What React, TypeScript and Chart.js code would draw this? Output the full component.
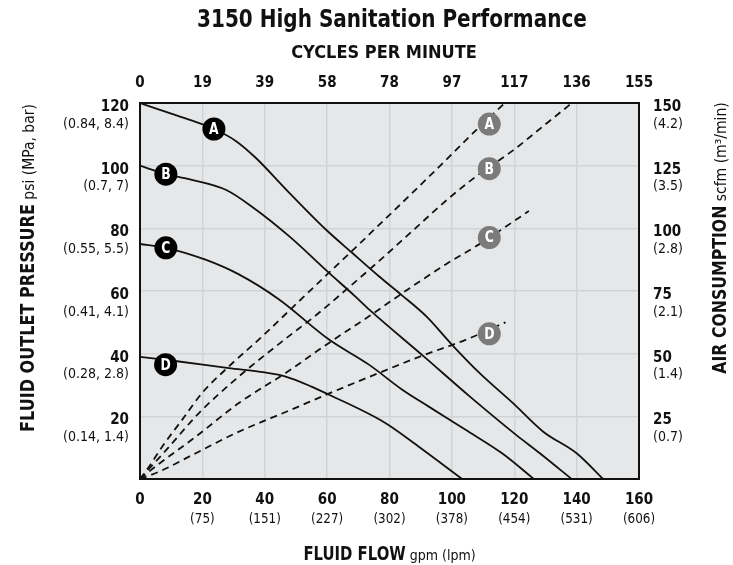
import React, { useEffect, useRef } from 'react';
import { Chart, registerables } from 'chart.js';

Chart.register(...registerables);

const FAMILY = "'DejaVu Sans Condensed', 'Liberation Sans Narrow', sans-serif";

// ---------- DATA ----------
// Fluid flow (gpm) vs fluid outlet pressure (psi) — solid curves
const flowA = [0, 10, 23.7, 30.7, 37, 47.8, 59.5, 68, 76.6, 83.9, 91.9, 99.9, 109, 119.6, 129.3, 140, 148.5];
const psiA = [120, 116.6, 111.7, 107.9, 102.6, 91.4, 79.7, 72.2, 64.7, 58.7, 51.8, 43, 33.7, 24.2, 15.1, 8.2, 0];
const flowB = [0, 8.3, 15.7, 27.5, 37, 47.8, 60.6, 69, 73.7, 90.8, 105.8, 120.7, 128.2, 138.4];
const psiB = [100, 97.3, 95.7, 92.3, 86.1, 77.5, 65.8, 58.3, 53.9, 39.3, 26.3, 14, 8.2, 0];
const flowC = [0, 8.3, 21, 31.7, 44.6, 60.6, 73.4, 84.1, 92.6, 104.4, 116.1, 126.3];
const psiC = [75, 73.8, 70, 65.3, 57.3, 44.5, 36.5, 28.5, 23.1, 15.7, 8.2, 0];
const flowD = [0, 12.5, 28.5, 40, 46.7, 55, 60.6, 70, 78.8, 89.4, 103.3];
const psiD = [39, 37.5, 35.4, 34, 32.7, 29.5, 26.9, 22.5, 17.8, 10.3, 0];

// Fluid flow (gpm) vs air consumption (scfm) — dashed curves
const airFlowA = [0, 2.9, 7.1, 13.5, 19.9, 28.5, 39.2, 48.8, 60.6, 68, 77.6, 87.2, 97.9, 108.7, 117];
const scfmA = [0, 4.9, 12.9, 23.6, 34.3, 44.9, 56.9, 68.3, 82.3, 91, 102.5, 114, 127, 140.3, 150];
const airFlowB = [0, 3, 8, 18.9, 31.7, 45.6, 57.4, 67, 76.6, 87.3, 98, 108.7, 119.4, 130.1, 138.1];
const scfmB = [0, 4.2, 11, 26.3, 40.9, 54.9, 66.3, 76.5, 86.9, 98.9, 110.9, 121.6, 130.9, 141.6, 149.6];
const airFlowC = [0, 5, 17.9, 31.7, 46.7, 60.6, 73.4, 87.5, 98, 108.7, 124.7];
const scfmC = [0, 5, 16.9, 30.3, 42.3, 54.3, 64.9, 77, 85.6, 93.6, 106.9];
const airFlowD = [0, 6.1, 17.9, 30.7, 47.8, 62.7, 76.6, 90.5, 104.4, 117.2];
const scfmD = [0, 2.9, 10.3, 18.3, 27.3, 35.2, 42.3, 49.2, 55.5, 62.5];

// Curve labels and their marker positions
const markerLetters = ['A', 'B', 'C', 'D'];
const pressureMarkerFlow = [23.7, 8.3, 8.3, 8.2];
const pressureMarkerPsi = [111.7, 97.3, 73.8, 36.5];
const airMarkerFlow = [112, 112, 112, 112];
const airMarkerScfm = [141.6, 123.8, 96.3, 57.9];

// Axis tick labels
const flowTicks = [0, 20, 40, 60, 80, 100, 120, 140, 160];
const flowTickLabels = ['0', '20', '40', '60', '80', '100', '120', '140', '160'];
const flowTickSub = ['', '(75)', '(151)', '(227)', '(302)', '(378)', '(454)', '(531)', '(606)'];
const cycleTickLabels = ['0', '19', '39', '58', '78', '97', '117', '136', '155'];
const psiTicks = [20, 40, 60, 80, 100, 120];
const psiTickSub = ['(0.14, 1.4)', '(0.28, 2.8)', '(0.41, 4.1)', '(0.55, 5.5)', '(0.7, 7)', '(0.84, 8.4)'];
const scfmTicks = [25, 50, 75, 100, 125, 150];
const scfmTickSub = ['(0.7)', '(1.4)', '(2.1)', '(2.8)', '(3.5)', '(4.2)'];

const TITLE = '3150 High Sanitation Performance';
const TOP_TITLE = 'CYCLES PER MINUTE';
const X_TITLE = ['FLUID FLOW', ' gpm (lpm)'];
const Y_TITLE = ['FLUID OUTLET PRESSURE', ' psi (MPa, bar)'];
const Y2_TITLE = ['AIR CONSUMPTION', ' scfm (m\u00B3/min)'];

// ---------- helpers ----------
const pts = (xs: number[], ys: number[]) => xs.map((x, i) => ({ x, y: ys[i] }));
const bold = (s: number) => `bold ${s}px ${FAMILY}`;
const reg = (s: number) => `${s}px ${FAMILY}`;

function drawText(ctx: CanvasRenderingContext2D, text: string, x: number, y: number, font: string, align: CanvasTextAlign, sx = 1, color = '#111') {
  ctx.save();
  ctx.font = font;
  ctx.fillStyle = color;
  ctx.textAlign = align;
  ctx.textBaseline = 'middle';
  ctx.translate(x, y);
  ctx.scale(sx, 1);
  ctx.fillText(text, 0, 0);
  ctx.restore();
}

function drawRich(ctx: CanvasRenderingContext2D, parts: [string, string, number][], cx: number, cy: number, capH: number, rotate: boolean) {
  ctx.save();
  ctx.translate(cx, cy);
  if (rotate) ctx.rotate(-Math.PI / 2);
  let total = 0;
  const widths = parts.map(([t, f, sx]) => {
    ctx.font = f;
    const w = ctx.measureText(t).width * sx;
    total += w;
    return w;
  });
  let x = -total / 2;
  ctx.textBaseline = 'alphabetic';
  ctx.textAlign = 'left';
  ctx.fillStyle = '#111';
  parts.forEach(([t, f, sx], i) => {
    ctx.save();
    ctx.font = f;
    ctx.translate(x, capH / 2);
    ctx.scale(sx, 1);
    ctx.fillText(t, 0, 0);
    ctx.restore();
    x += widths[i];
  });
  ctx.restore();
}

const decorPlugin = {
  id: 'decor',
  beforeDraw(chart: any) {
    const { ctx, chartArea: a } = chart;
    ctx.save();
    ctx.fillStyle = '#e6e7e8';
    ctx.fillRect(a.left, a.top, a.right - a.left, a.bottom - a.top);
    ctx.restore();
  },
  afterDatasetsDraw(chart: any) {
    const { ctx } = chart;
    chart.data.datasets.forEach((ds: any, di: number) => {
      if (!ds.letters) return;
      const meta = chart.getDatasetMeta(di);
      meta.data.forEach((el: any, i: number) => {
        drawText(ctx, ds.letters[i], el.x, el.y + 1, bold(15), 'center', 0.92, '#ffffff');
      });
    });
  },
  afterDraw(chart: any) {
    const { ctx, chartArea: a, scales } = chart;
    const x = scales.x, y = scales.y, y2 = scales.y2;
    ctx.save();
    ctx.strokeStyle = '#111';
    ctx.lineWidth = 2;
    ctx.strokeRect(a.left, a.top, a.right - a.left, a.bottom - a.top);
    ctx.restore();

    // bottom + top ticks
    flowTicks.forEach((v, i) => {
      const px = x.getPixelForValue(v);
      drawText(ctx, flowTickLabels[i], px, a.bottom + 21, bold(15), 'center');
      if (flowTickSub[i]) drawText(ctx, flowTickSub[i], px, a.bottom + 40, reg(14), 'center', 0.95);
      drawText(ctx, cycleTickLabels[i], px, a.top - 20, bold(15), 'center');
    });
    // left ticks
    psiTicks.forEach((v, i) => {
      const py = y.getPixelForValue(v);
      drawText(ctx, String(v), a.left - 11, py + 4, bold(15), 'right');
      drawText(ctx, psiTickSub[i], a.left - 11, py + 21, reg(14), 'right');
    });
    // right ticks
    scfmTicks.forEach((v, i) => {
      const py = y2.getPixelForValue(v);
      drawText(ctx, String(v), a.right + 14, py + 4, bold(15), 'left');
      drawText(ctx, scfmTickSub[i], a.right + 14, py + 21, reg(14), 'left');
    });
    // titles
    drawText(ctx, TITLE, 392, 20, bold(25), 'center', 0.89);
    drawText(ctx, TOP_TITLE, 384, 53, bold(18), 'center', 1);

    drawRich(ctx, [[X_TITLE[0], bold(19), 0.87], [X_TITLE[1], reg(14), 1]], (a.left + a.right) / 2, 553, 14, false);
    drawRich(ctx, [[Y_TITLE[0], bold(19), 0.94], [Y_TITLE[1], reg(15.5), 1]], 27, 268, 14, true);
    drawRich(ctx, [[Y2_TITLE[0], bold(19), 0.92], [Y2_TITLE[1], reg(15.5), 1]], 719, 238, 14, true);
  },
};

const solid = (data: any) => ({
  data,
  yAxisID: 'y',
  borderColor: '#111',
  borderWidth: 1.8,
  pointRadius: 0,
  fill: false,
  cubicInterpolationMode: 'monotone',
  order: 2,
});
const dashed = (data: any) => ({
  data,
  yAxisID: 'y2',
  borderColor: '#111',
  borderWidth: 1.8,
  borderDash: [7, 5],
  pointRadius: 0,
  fill: false,
  cubicInterpolationMode: 'monotone',
  order: 2,
});

const gridColor = (ctx: any) => {
  const v = ctx.tick?.value;
  const s = ctx.scale;
  if (v === s.min || v === s.max) return 'rgba(0,0,0,0)';
  return '#d2d3d5';
};

export default function App() {
  const ref = useRef<HTMLCanvasElement>(null);
  useEffect(() => {
    if (!ref.current) return;
    const chart = new Chart(ref.current, {
      type: 'line',
      data: {
        datasets: [
          {
            data: pts(pressureMarkerFlow, pressureMarkerPsi),
            yAxisID: 'y',
            showLine: false,
            pointRadius: 11.5,
            pointBackgroundColor: '#000',
            pointBorderWidth: 0,
            order: 0,
            letters: markerLetters,
          } as any,
          {
            data: pts(airMarkerFlow, airMarkerScfm),
            yAxisID: 'y2',
            showLine: false,
            pointRadius: 11.5,
            pointBackgroundColor: '#7b7b7b',
            pointBorderWidth: 0,
            order: 0,
            letters: markerLetters,
          } as any,
          solid(pts(flowA, psiA)),
          solid(pts(flowB, psiB)),
          solid(pts(flowC, psiC)),
          solid(pts(flowD, psiD)),
          dashed(pts(airFlowA, scfmA)),
          dashed(pts(airFlowB, scfmB)),
          dashed(pts(airFlowC, scfmC)),
          dashed(pts(airFlowD, scfmD)),
        ] as any,
      },
      options: {
        responsive: false,
        maintainAspectRatio: false,
        animation: false,
        devicePixelRatio: 1,
        events: [],
        layout: { padding: { left: 140, right: 94, top: 103, bottom: 86 } },
        plugins: { legend: { display: false }, tooltip: { enabled: false }, title: { display: false } },
        scales: {
          x: {
            type: 'linear',
            position: 'bottom',
            min: 0,
            max: 160,
            ticks: { stepSize: 20, display: false },
            grid: { color: gridColor, lineWidth: 1.5, drawTicks: false },
            border: { display: false },
            afterFit: (s: any) => { s.height = 0; },
          },
          y: {
            type: 'linear',
            position: 'left',
            min: 0,
            max: 120,
            ticks: { stepSize: 20, display: false },
            grid: { color: gridColor, lineWidth: 1.5, drawTicks: false },
            border: { display: false },
            afterFit: (s: any) => { s.width = 0; },
          },
          y2: {
            type: 'linear',
            position: 'right',
            min: 0,
            max: 150,
            ticks: { stepSize: 25, display: false },
            grid: { display: false, drawTicks: false },
            border: { display: false },
            afterFit: (s: any) => { s.width = 0; },
          },
        },
      } as any,
      plugins: [decorPlugin],
    });
    return () => chart.destroy();
  }, []);
  return (
    <div style={{ position: 'fixed', left: 0, top: 0, width: 733, height: 565, background: '#fff' }}>
      <canvas ref={ref} width={733} height={565} style={{ display: 'block' }} />
    </div>
  );
}
